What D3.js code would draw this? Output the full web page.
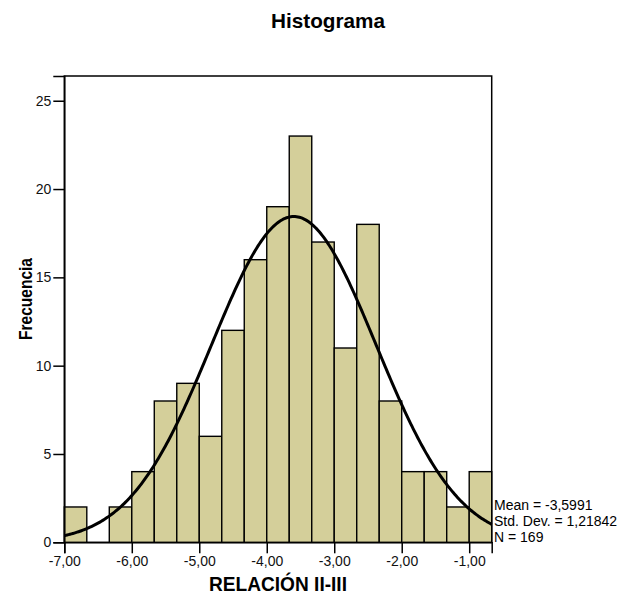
<!DOCTYPE html>
<html><head><meta charset="utf-8">
<script src="https://cdn.jsdelivr.net/npm/d3@7"></script>
<style>body{margin:0;background:#fff}svg{display:block}text{font-family:"Liberation Sans",Arial,sans-serif}</style>
</head><body><svg id="c" width="619" height="596"></svg>
<script>
const binStart = -7;
const binWidth = 1/3;
const counts = [2,0,2,4,8,9,6,12,16,19,23,17,11,18,8,4,4,2,4];
const xTicks = [-7,-6,-5,-4,-3,-2,-1];
const yTicks = [0,5,10,15,20,25];
const stats = {mean:-3.5991, sd:1.21842, n:169};
const statLines = ["Mean = -3,5991","Std. Dev. = 1,21842","N = 169"];

const svg = d3.select("#c");
const L=64.3, R=491.7, T=76, B=542.3;
const x = d3.scaleLinear().domain([-7, -7+counts.length*binWidth]).range([L,R]);
const y = d3.scaleLinear().domain([0,26.4]).range([B,T]);
const fmt = v => d3.format(".2f")(v).replace(".",",").replace("\u2212","-");

svg.append("rect").attr("x",L).attr("y",T).attr("width",R-L).attr("height",B-T)
  .attr("fill","#fff").attr("stroke","#000").attr("stroke-width",1.5);

svg.append("g").selectAll("rect").data(counts.map((c,i)=>({c,i})).filter(d=>d.c>0)).join("rect")
  .attr("x",d=>x(binStart+d.i*binWidth)).attr("width",d=>x(binStart+(d.i+1)*binWidth)-x(binStart+d.i*binWidth))
  .attr("y",d=>y(d.c)).attr("height",d=>y(0)-y(d.c))
  .attr("fill","#d4cf9a").attr("stroke","#000").attr("stroke-width",1.4);

// normal curve from displayed stats
const pts = d3.range(0,301).map(k=>{
  const v = -7 + k*(x.domain()[1]+7)/300;
  const z = (v-stats.mean)/stats.sd;
  return [v, stats.n*binWidth/(stats.sd*Math.sqrt(2*Math.PI))*Math.exp(-0.5*z*z)];
});
svg.append("path").datum(pts).attr("fill","none").attr("stroke","#000").attr("stroke-width",3)
  .attr("d",d3.line().x(d=>x(d[0])).y(d=>y(d[1])));

const xa = svg.append("g").attr("transform",`translate(0,${B})`)
  .call(d3.axisBottom(x).tickValues(xTicks).tickFormat(fmt).tickSizeOuter(0).tickSize(11).tickPadding(3));
xa.select(".domain").attr("stroke-width",1.5);
xa.selectAll("line").attr("stroke-width",1.5);
xa.selectAll("text").attr("font-size",14).attr("fill","#111");

const ya = svg.append("g").attr("transform",`translate(${L},0)`)
  .call(d3.axisLeft(y).tickValues(yTicks).tickSizeOuter(0).tickSize(11).tickPadding(2));
ya.select(".domain").attr("stroke-width",1.5);
ya.selectAll("line").attr("stroke-width",1.5);
ya.selectAll("text").attr("font-size",14).attr("fill","#111");
svg.selectAll(".tick text").style("font-family",'"Liberation Sans",Arial,sans-serif');

svg.append("text").attr("x",328).attr("y",28).attr("text-anchor","middle")
  .attr("font-size",21).attr("font-weight","bold")
  .attr("textLength",114).attr("lengthAdjust","spacingAndGlyphs").text("Histograma");
svg.append("text").attr("x",278).attr("y",591).attr("text-anchor","middle")
  .attr("font-size",20).attr("font-weight","bold")
  .attr("textLength",138).attr("lengthAdjust","spacingAndGlyphs").text("RELACIÓN II-III");
svg.append("text").attr("transform","translate(32,299) rotate(-90)").attr("text-anchor","middle")
  .attr("font-size",18).attr("font-weight","bold")
  .attr("textLength",82).attr("lengthAdjust","spacingAndGlyphs").text("Frecuencia");

svg.append("g").selectAll("text").data(statLines).join("text")
  .attr("x",494).attr("y",(d,i)=>510+i*16).attr("font-size",14).text(d=>d);
</script></body></html>
